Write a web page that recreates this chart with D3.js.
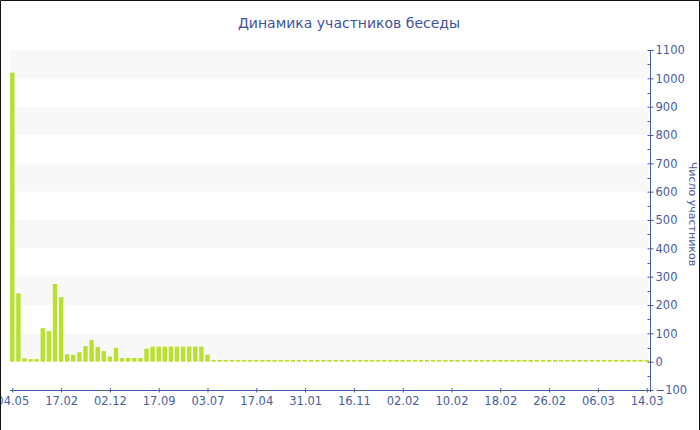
<!DOCTYPE html>
<html>
<head>
<meta charset="utf-8">
<script src="https://cdn.jsdelivr.net/npm/d3@7/dist/d3.min.js"></script>
<style>
  html, body { margin: 0; padding: 0; background: #fff; }
  svg { display: block; }
</style>
</head>
<body>
<svg id="chart" width="700" height="430"></svg>
<script>
const title = "Динамика участников беседы";
const yAxisTitle = "Число участников";

const values = [
  1020, 241, 12, 9, 9, 118, 108, 274, 228, 26,
  24, 33, 55, 76, 52, 37, 18, 49, 13, 13,
  13, 13, 46, 53, 53, 53, 53, 53, 53, 53,
  53, 53, 25, 6, 6, 6, 6, 6, 6, 6,
  6, 6, 6, 6, 6, 6, 6, 6, 6, 6,
  6, 6, 6, 6, 6, 6, 6, 6, 6, 6,
  6, 6, 6, 6, 6, 6, 6, 6, 6, 6,
  6, 6, 6, 6, 6, 6, 6, 6, 6, 6,
  6, 6, 6, 6, 6, 6, 6, 6, 6, 6,
  6, 6, 6, 6, 6, 6, 6, 6, 6, 6,
  6, 6, 6, 6, 6
];
const categories = d3.range(values.length);
const tickLabels = ["04.05","17.02","02.12","17.09","03.07","17.04","31.01","16.11","02.02","10.02","18.02","26.02","06.03","14.03"];
const tickEvery = 8;
const yTicks = d3.range(-100, 1101, 100);

const svg = d3.select("#chart");
const textColor = "#4a5c9e";
const axisColor = "#4a5ca8";
const font = "DejaVu Sans, Verdana, sans-serif";

const plotLeft = 10, plotRight = 648, plotTop = 50, plotBottom = 390;
const x = d3.scalePoint().domain(categories).range([12.3, 646.7]);
const y = d3.scaleLinear().domain([-100, 1100]).range([plotBottom, plotTop]);

// alternating bands
const bandStarts = d3.range(0, 1100, 200);
svg.append("g").selectAll("rect").data(bandStarts).join("rect")
  .attr("x", plotLeft).attr("width", plotRight - plotLeft)
  .attr("y", d => y(d + 100)).attr("height", d => y(d) - y(d + 100))
  .attr("fill", "#f8f8f8");

// bars
const bw = 4.4;
svg.append("g").selectAll("rect").data(values).join("rect")
  .attr("x", (d, i) => x(categories[i]) - bw / 2)
  .attr("width", bw)
  .attr("y", d => y(d))
  .attr("height", d => y(0) - y(d))
  .attr("fill", "#b9df2f");

// x axis
const xAxis = d3.axisBottom(x)
  .tickValues(categories.filter(c => c % tickEvery === 0))
  .tickFormat(c => tickLabels[c / tickEvery])
  .tickSizeInner(2).tickSizeOuter(0).tickPadding(5);
const gx = svg.append("g").attr("transform", `translate(0,${plotBottom})`).call(xAxis);
gx.select(".domain").remove();
gx.append("line").attr("x1", plotLeft).attr("x2", plotRight).attr("y1", 0.5).attr("y2", 0.5)
  .attr("stroke", axisColor);
gx.selectAll(".tick line").attr("y1", -2).attr("y2", 2.5).attr("stroke", axisColor);
gx.selectAll(".tick text").attr("fill", textColor).attr("font-family", font).attr("font-size", "11.5px");

// y axis (right)
const yAxis = d3.axisRight(y).tickValues(yTicks).tickFormat(d3.format("d"))
  .tickSizeInner(3).tickSizeOuter(0).tickPadding(2);
const gy = svg.append("g").attr("transform", `translate(650.5,0)`).call(yAxis);
gy.select(".domain").remove();
gy.append("line").attr("x1", 0).attr("x2", 0).attr("y1", plotTop).attr("y2", plotBottom + 2)
  .attr("stroke", axisColor);
gy.selectAll(".tick line").attr("x1", -3).attr("x2", 3).attr("stroke", axisColor);
gy.selectAll(".tick text").attr("fill", textColor).attr("font-family", font).attr("font-size", "11.5px");
// minor ticks
gy.append("g").selectAll("line").data(d3.range(-50, 1100, 100)).join("line")
  .attr("x1", -3).attr("x2", 0).attr("y1", d => Math.round(y(d)) + 0.5).attr("y2", d => Math.round(y(d)) + 0.5)
  .attr("stroke", axisColor);

// y axis title
svg.append("text")
  .attr("transform", "translate(689,214) rotate(90)")
  .attr("text-anchor", "middle")
  .attr("fill", textColor).attr("font-family", font).attr("font-size", "11px")
  .text(yAxisTitle);

// title
svg.append("text")
  .attr("x", 349).attr("y", 28)
  .attr("text-anchor", "middle")
  .attr("fill", "#3f52a0").attr("font-family", font).attr("font-size", "14px")
  .text(title);

// frame
svg.append("path").attr("d", "M0.5,430 V0.5 H699.5 V430").attr("fill", "none").attr("stroke", "#111");
</script>
</body>
</html>
